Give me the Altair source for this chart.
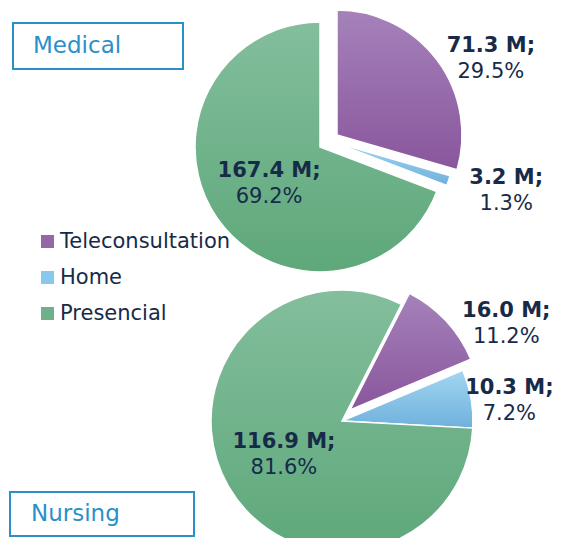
import math
import altair as alt
import pandas as pd

# ---- data ----
categories = ["Teleconsultation", "Home", "Presencial"]
medical_values = [71.3, 3.2, 167.4]   # millions
nursing_values = [16.0, 10.3, 116.9]  # millions
panel_titles = ["Medical", "Nursing"]

# ---- style ----
FONT = "DejaVu Sans"
TXT = "#172b49"
BOX = "#2b8fca"
GRAD_STOPS = {
    "Teleconsultation": ("#a582ba", "#89569c"),
    "Home": ("#a3d6f2", "#6fb1dc"),
    "Presencial": ("#83be9d", "#5ea87a"),
}
LEGEND_COLORS = ["#9468a8", "#8ac8ea", "#6fb08a"]
W, H = 547, 530


def grad(top, bottom):
    return alt.Gradient(
        gradient="linear",
        stops=[alt.GradientStop(color=top, offset=0), alt.GradientStop(color=bottom, offset=1)],
        x1=0, x2=0, y1=0, y2=1,
    )


def pie_layers(values, cx, cy, r, start_deg, explode, label_pos):
    df = pd.DataFrame({"cat": categories, "value": values, "order": list(range(len(categories)))})
    base = (
        alt.Chart(df)
        .transform_joinaggregate(total="sum(value)")
        .transform_window(cum="sum(value)", sort=[alt.SortField("order")], frame=[None, 0])
        .transform_calculate(
            start="(datum.cum - datum.value) / datum.total",
            end="datum.cum / datum.total",
            mid="(datum.cum - datum.value / 2) / datum.total",
            line1="format(datum.value, '.1f') + ' M;'",
            line2="format(datum.value / datum.total, '.1%')",
        )
    )
    a0 = math.radians(start_deg)
    sc = alt.Scale(domain=[0, 1], range=[a0, a0 + 2 * math.pi])
    layers = []
    for cat in categories:
        ox, oy = explode.get(cat, (0, 0))
        b = base.transform_filter(alt.datum.cat == cat)
        layers.append(
            b.mark_arc(radius=r, fill=grad(*GRAD_STOPS[cat]), stroke="white", strokeWidth=1.5).encode(
                theta=alt.Theta("start:Q", scale=sc, stack=None),
                theta2="end:Q",
                x=alt.value(cx + ox),
                y=alt.value(cy + oy),
            )
        )
    for cat in categories:
        R, ldx, ldy = label_pos[cat]
        b = base.transform_filter(alt.datum.cat == cat)
        layers.append(
            b.mark_text(radius=R, dx=ldx, dy=ldy - 13, fontWeight="bold", fontSize=21, font=FONT,
                        color=TXT, baseline="middle").encode(
                theta=alt.Theta("mid:Q", scale=sc, stack=None),
                text="line1:N",
                x=alt.value(cx),
                y=alt.value(cy),
            )
        )
        layers.append(
            b.mark_text(radius=R, dx=ldx, dy=ldy + 13, fontSize=21, font=FONT,
                        color=TXT, baseline="middle").encode(
                theta=alt.Theta("mid:Q", scale=sc, stack=None),
                text="line2:N",
                x=alt.value(cx),
                y=alt.value(cy),
            )
        )
    return layers


medical = pie_layers(
    medical_values, 312, 139, 125, 0,
    {"Teleconsultation": (17, -12), "Home": (10, -6)},
    {"Teleconsultation": (190, 19, 26), "Home": (190, 6, -16), "Presencial": (63, 1, 1)},
)
nursing = pie_layers(
    nursing_values, 334, 413, 131, 27,
    {"Teleconsultation": (8, -11)},
    {"Teleconsultation": (186, 28, 30), "Home": (179, -9, 11), "Presencial": (67, 0, 1)},
)


def title_box(text, x0, x1, y0, y1, tx):
    d = alt.Chart(pd.DataFrame({"t": [text]}))
    box = d.mark_rect(fill="transparent", stroke=BOX, strokeWidth=2).encode(
        x=alt.value(x0), x2=alt.value(x1), y=alt.value(y0), y2=alt.value(y1)
    )
    label = d.mark_text(align="left", baseline="middle", fontSize=23, font=FONT, color=BOX).encode(
        text="t:N", x=alt.value(tx), y=alt.value((y0 + y1) / 2)
    )
    return [box, label]


legend_layer = alt.Chart(pd.DataFrame({"cat": categories})).mark_square(opacity=0).encode(
    x=alt.value(0),
    y=alt.value(0),
    color=alt.Color(
        "cat:N",
        scale=alt.Scale(domain=categories, range=LEGEND_COLORS),
        sort=categories,
        legend=alt.Legend(
            title=None, orient="none", legendX=29, legendY=223, symbolType="square",
            symbolSize=169, symbolOpacity=1, symbolStrokeWidth=0, labelFontSize=21, labelFont=FONT,
            labelColor=TXT, rowPadding=14, padding=0, labelOffset=2, labelLimit=400,
        ),
    ),
)

layers = (
    medical + nursing
    + title_box(panel_titles[0], 5, 175, 15, 61, 25)
    + title_box(panel_titles[1], 2, 186, 484, 528, 23)
    + [legend_layer]
)

chart = (
    alt.layer(*layers)
    .resolve_scale(theta="independent")
    .properties(width=W, height=H, padding=0, autosize=alt.AutoSizeParams(type="none"), background="white")
    .configure_view(strokeWidth=0)
)

chart.save("out.html", embed_options={"renderer": "svg", "actions": False})
